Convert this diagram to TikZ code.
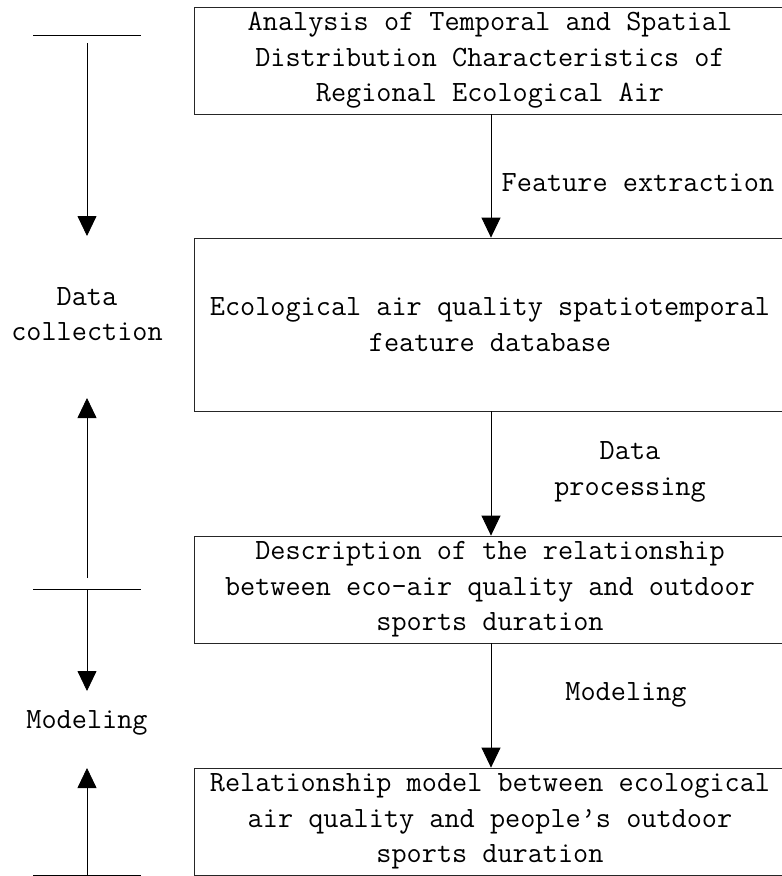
\documentclass[tikz,border=0pt]{standalone}
\usepackage{fontspec}
\setmonofont{Latin Modern Mono}
\usetikzlibrary{arrows.meta}
\tikzset{
  txt/.style={font=\ttfamily\fontsize{29.4}{35.5}\selectfont, inner sep=0pt, align=center},
  boxnode/.style={txt, draw=black!85, line width=0.8pt, minimum width=592pt},
  conn/.style={line width=0.8pt, -{Triangle[width=19pt,length=20pt]}},
  plain/.style={line width=0.8pt}
}
\begin{document}
\begin{tikzpicture}[x=1pt,y=-1pt]
\useasboundingbox (0,0) rectangle (782,876);
% main boxes
\node[boxnode, minimum height=107pt] (b1) at (490,60.5)
  {Analysis of Temporal and Spatial\\Distribution Characteristics of\\Regional Ecological Air};
\node[boxnode, minimum height=173pt] (b2) at (490,324.5)
  {Ecological air quality spatiotemporal\\feature database};
\node[boxnode, minimum height=107pt] (b3) at (490,589.5)
  {Description of the relationship\\between eco-air quality and outdoor\\sports duration};
\node[boxnode, minimum height=107pt] (b4) at (490,821.5)
  {Relationship model between ecological\\air quality and people’s outdoor\\sports duration};
% connectors between boxes
\draw[conn] (b1.south -| 491,0) -- (b2.north -| 491,0);
\draw[conn] (b2.south -| 491,0) -- (b3.north -| 491,0);
\draw[conn] (b3.south -| 491,0) -- (b4.north -| 491,0);
% connector labels
\node[txt] (l1) at (638,183) {Feature extraction};
\node[txt] (l2) at (630,472) {Data\\processing};
\node[txt] (l3) at (626,695) {Modeling};
% left-side stage markers
\coordinate (t1a) at (33,35);   \coordinate (t1b) at (141,35);
\coordinate (t2a) at (33,589);  \coordinate (t2b) at (141,589);
\coordinate (t3a) at (33,875);  \coordinate (t3b) at (141,875);
\coordinate (s1) at (87,43);
\coordinate (e1) at (87,236);
\coordinate (s2) at (87,578);
\coordinate (e2) at (87,398);
\coordinate (s3) at (87,589);
\coordinate (e3) at (87,691);
\coordinate (s4) at (87,875);
\coordinate (e4) at (87,768);
\draw[plain] (t1a) -- (t1b);
\draw[plain] (t2a) -- (t2b);
\draw[plain] (t3a) -- (t3b);
\draw[conn] (s1) -- (e1);
\draw[conn] (s2) -- (e2);
\draw[conn] (s3) -- (e3);
\draw[conn] (s4) -- (e4);
\node[txt] (dc) at (87,314) {Data\\collection};
\node[txt] (md) at (87,723) {Modeling};
\end{tikzpicture}
\end{document}
